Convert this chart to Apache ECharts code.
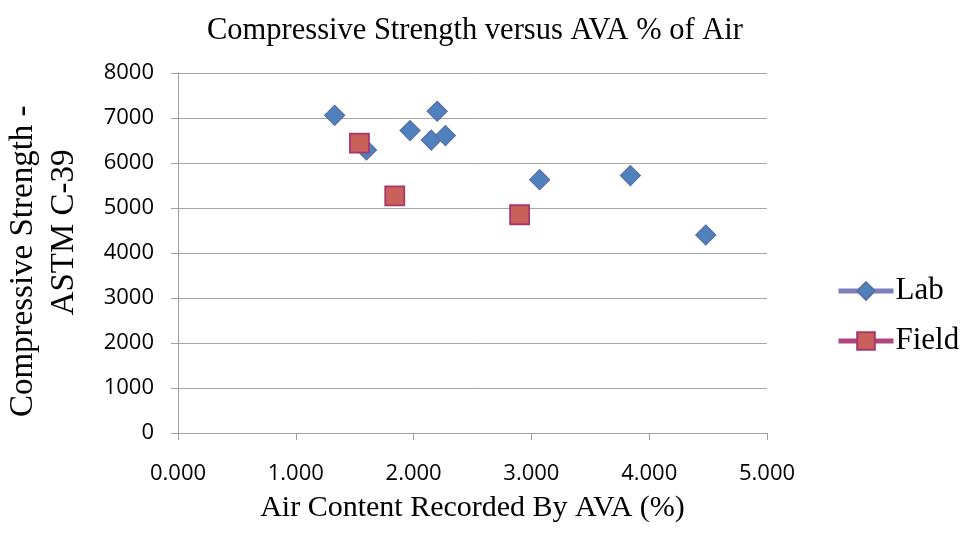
<!DOCTYPE html>
<html><head><meta charset="utf-8">
<script src="https://cdn.jsdelivr.net/npm/echarts@6/dist/echarts.min.js"></script>
<style>html,body{margin:0;padding:0;background:#fff}#c{width:965px;height:548px}</style>
</head><body><div id="c"></div>
<script>
const labX = [1.33, 1.60, 1.97, 2.20, 2.15, 2.27, 3.07, 3.84, 4.48];
const labY = [7060, 6290, 6720, 7150, 6510, 6610, 5630, 5720, 4400];
const fieldX = [1.54, 1.84, 2.90];
const fieldY = [6440, 5270, 4850];
const seriesNames = ['Lab', 'Field'];
const titleText = 'Compressive Strength versus AVA % of Air';
const xName = 'Air Content Recorded By AVA (%)';
const yName = 'Compressive Strength -  \n     ASTM C-39';

const chart = echarts.init(document.getElementById('c'));
const serif = 'Liberation Serif';
const sans = 'Open Sans';
chart.setOption({
  animation: false,
  title: { text: titleText, left: 202, top: 10, textStyle: { fontFamily: serif, fontSize: 30.5, fontWeight: 'normal', color: '#000' } },
  grid: { left: 178, right: 198, top: 73, bottom: 115, outerBoundsMode: 'none', containLabel: false },
  legend: {
    orient: 'vertical', left: 836, top: 275, padding: 0, itemGap: 18, itemWidth: 55, itemHeight: 22,
    textStyle: { fontFamily: serif, fontSize: 31, lineHeight: 32, color: '#000', padding: [0,0,0,-3] },
    data: [
      { name: 'Lab', lineStyle: { color: '#7E7FBC', width: 5, opacity: 1 } },
      { name: 'Field', lineStyle: { color: '#B0467C', width: 5, opacity: 1 } }
    ]
  },
  xAxis: {
    type: 'value', min: 0, max: 5, interval: 1,
    name: xName, nameLocation: 'middle', nameGap: 60,
    nameTextStyle: { fontFamily: serif, fontSize: 30, color: '#000' },
    axisLine: { show: true, lineStyle: { color: '#A0A0A0' } },
    axisTick: { show: true, inside: false, length: 7, lineStyle: { color: '#A0A0A0' } },
    axisLabel: { fontFamily: sans, fontSize: 22, color: '#000', margin: 30, formatter: v => v.toFixed(3) },
    splitLine: { show: false }
  },
  yAxis: {
    type: 'value', min: 0, max: 8000, interval: 1000,
    name: yName, nameLocation: 'middle', nameGap: 93,
    nameTextStyle: { fontFamily: serif, fontSize: 33, color: '#000', lineHeight: 41 },
    axisLine: { show: true, lineStyle: { color: '#A0A0A0' } },
    axisTick: { show: true, length: 7, lineStyle: { color: '#A0A0A0' } },
    axisLabel: { fontFamily: sans, fontSize: 22, color: '#000', margin: 24, formatter: v => String(v) },
    splitLine: { show: true, lineStyle: { color: '#A6A6A6' } }
  },
  series: [
    {
      name: seriesNames[0], type: 'line', data: labX.map((x, i) => [x, labY[i]]),
      symbol: 'diamond', symbolSize: 20, showAllSymbol: true,
      lineStyle: { width: 0, opacity: 0 },
      itemStyle: { color: '#4F81BD', borderColor: '#5B6FA3', borderWidth: 1.2 }
    },
    {
      name: seriesNames[1], type: 'line', data: fieldX.map((x, i) => [x, fieldY[i]]),
      symbol: 'rect', symbolSize: 19, showAllSymbol: true,
      lineStyle: { width: 0, opacity: 0 },
      itemStyle: { color: '#C9605A', borderColor: '#A5386C', borderWidth: 1.8 }
    }
  ]
});
</script></body></html>
